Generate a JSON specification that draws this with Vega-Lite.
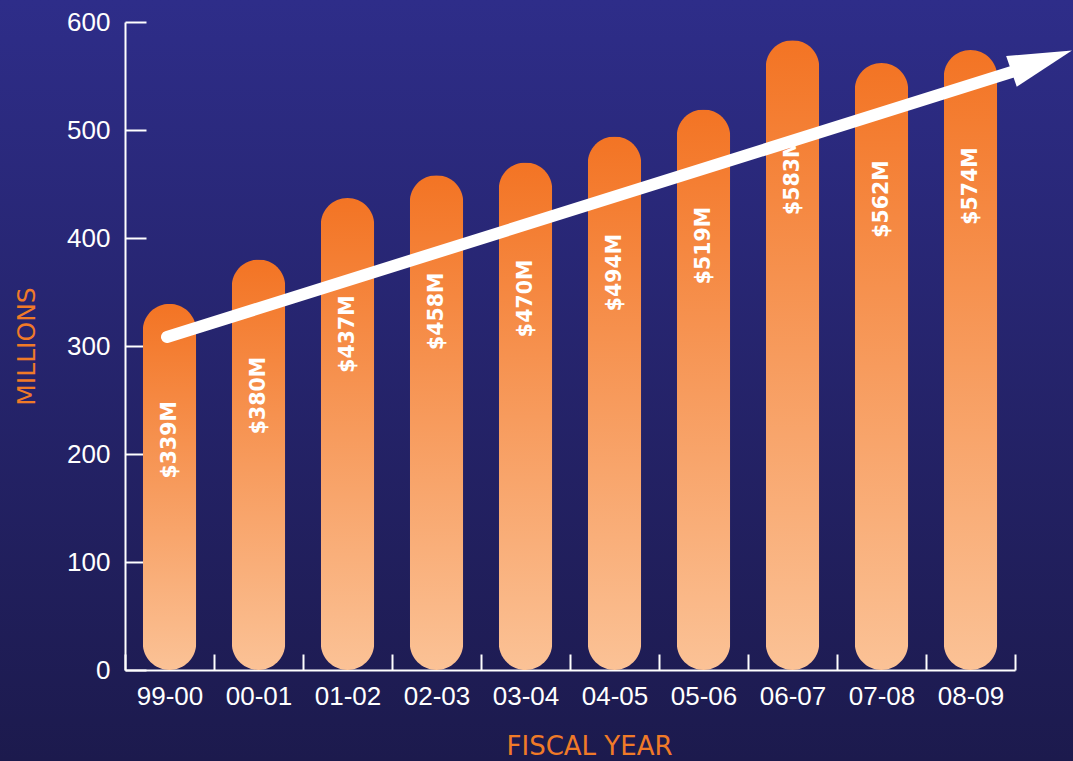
{
  "$schema": "https://vega.github.io/schema/vega-lite/v6.json",
  "width": 1073,
  "height": 761,
  "autosize": "none",
  "padding": 0,
  "background": "#25246b",
  "view": {
    "stroke": null,
    "fill": {"gradient": "linear", "x1": 0, "y1": 0, "x2": 0, "y2": 1,
      "stops": [{"offset": 0, "color": "#2e2d89"}, {"offset": 1, "color": "#1c1a4d"}]}
  },
  "config": {
    "axis": {
      "domainColor": "white", "domainWidth": 2,
      "tickColor": "white", "tickWidth": 2,
      "labelColor": "white", "labelFont": "Liberation Sans", "labelFontSize": 26,
      "titleColor": "#f07a28", "titleFont": "DejaVu Sans", "titleFontWeight": "normal", "titleFontSize": 25,
      "grid": false
    }
  },
  "datasets": {
    "bars": [
      {"year": "99-00", "value": 339, "label": "$339M"},
      {"year": "00-01", "value": 380, "label": "$380M"},
      {"year": "01-02", "value": 437, "label": "$437M"},
      {"year": "02-03", "value": 458, "label": "$458M"},
      {"year": "03-04", "value": 470, "label": "$470M"},
      {"year": "04-05", "value": 494, "label": "$494M"},
      {"year": "05-06", "value": 519, "label": "$519M"},
      {"year": "06-07", "value": 583, "label": "$583M"},
      {"year": "07-08", "value": 562, "label": "$562M"},
      {"year": "08-09", "value": 574, "label": "$574M"}
    ],
    "trend": [
      {"t": 0.472, "v": 308.3},
      {"t": 10.06, "v": 556.2}
    ],
    "head": [
      {"t": 10.30, "v": 563.9}
    ]
  },
  "layer": [
    {
      "layer": [
        {
          "data": {"name": "bars"},
          "mark": {
            "type": "bar", "cornerRadius": 27, "width": {"band": 0.6},
            "fill": {"gradient": "linear", "x1": 0, "y1": 0, "x2": 0, "y2": 1,
              "stops": [{"offset": 0, "color": "#f37424"}, {"offset": 1, "color": "#fbc296"}]}
          },
          "encoding": {
            "x": {
              "field": "year", "type": "nominal", "sort": null,
              "scale": {"range": [125, 1015], "paddingInner": 0, "paddingOuter": 0},
              "axis": {"title": "FISCAL YEAR", "titleFontSize": 26, "labelAngle": 0, "offset": -91, "tickSize": -16, "tickBand": "extent", "labelPadding": 29, "titlePadding": 24, "titleX": 589}
            },
            "y": {
              "field": "value", "type": "quantitative",
              "scale": {"domain": [0, 600], "range": [670, 22], "nice": false},
              "axis": {"title": "MILLIONS", "offset": -125, "tickSize": -21, "values": [0, 100, 200, 300, 400, 500, 600], "labelPadding": 36, "titlePadding": 27}
            }
          }
        },
        {
          "data": {"name": "bars"},
          "mark": {"type": "text", "angle": 270, "align": "center", "baseline": "middle", "dx": -136, "font": "DejaVu Sans", "fontWeight": "bold", "fontSize": 20.5, "fill": "white"},
          "encoding": {
            "x": {"field": "year", "type": "nominal", "sort": null},
            "y": {"field": "value", "type": "quantitative"},
            "text": {"field": "label"}
          }
        }
      ]
    },
    {
      "layer": [
        {
          "data": {"name": "trend"},
          "mark": {"type": "line", "stroke": "white", "strokeWidth": 12, "strokeCap": "round", "clip": false},
          "encoding": {
            "x": {"field": "t", "type": "quantitative", "scale": {"domain": [0, 10], "range": [125, 1015], "nice": false, "zero": false}, "axis": null},
            "y": {"field": "v", "type": "quantitative"}
          }
        },
        {
          "data": {"name": "head"},
          "mark": {"type": "point", "shape": "M-1,-0.51L1,0L-1,0.51Z", "filled": true, "fill": "white", "stroke": null, "opacity": 1, "size": 4096, "angle": -19, "clip": false},
          "encoding": {
            "x": {"field": "t", "type": "quantitative"},
            "y": {"field": "v", "type": "quantitative"}
          }
        }
      ]
    }
  ],
  "resolve": {"scale": {"x": "independent"}}
}
